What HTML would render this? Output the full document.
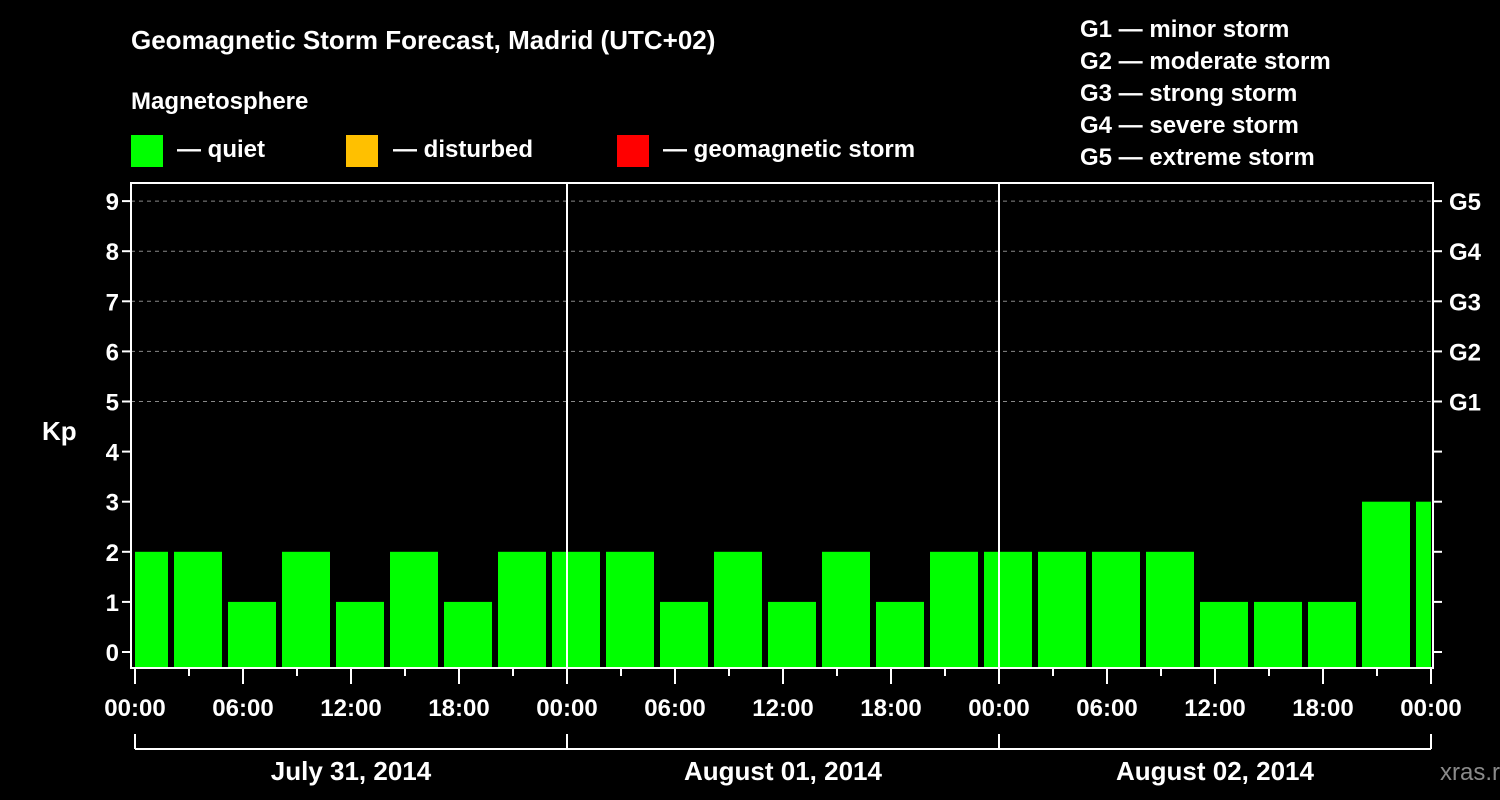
<!DOCTYPE html>
<html><head><meta charset="utf-8"><style>
body{margin:0;background:#000;width:1500px;height:800px;overflow:hidden}
svg{display:block}
text{font-family:"Liberation Sans",sans-serif;font-weight:bold;fill:#fff}
</style></head><body>
<svg id="chart" width="1500" height="800" viewBox="0 0 1500 800">
<text x="131" y="49" font-size="26">Geomagnetic Storm Forecast, Madrid (UTC+02)</text>
<text x="131" y="109" font-size="24">Magnetosphere</text>
<g>
<rect x="131" y="135" width="32" height="32" fill="#00ff00"/>
<text x="177" y="157" font-size="24">— quiet</text>
<rect x="346" y="135" width="32" height="32" fill="#ffc000"/>
<text x="393" y="157" font-size="24">— disturbed</text>
<rect x="617" y="135" width="32" height="32" fill="#ff0000"/>
<text x="663" y="157" font-size="24">— geomagnetic storm</text>
</g>
<g font-size="24">
<text x="1080" y="37">G1 — minor storm</text>
<text x="1080" y="69">G2 — moderate storm</text>
<text x="1080" y="101">G3 — strong storm</text>
<text x="1080" y="133">G4 — severe storm</text>
<text x="1080" y="165">G5 — extreme storm</text>
</g>
<text x="42" y="440" font-size="26">Kp</text>
<text x="1440" y="780" font-size="24" fill="#888" style="fill:#8a8a8a;font-weight:normal">xras.ru</text>
<g id="grid"></g><g id="bars"></g><g id="axes"></g>
</svg>
<script>
const kpValues=[2,2,1,2,1,2,1,2,2,2,1,2,1,2,1,2,2,2,2,2,1,1,1,3,3];
const yTicks=[0,1,2,3,4,5,6,7,8,9];
const gLabels=["G1","G2","G3","G4","G5"];
const gLevels=[5,6,7,8,9];
const xTickLabels=["00:00","06:00","12:00","18:00","00:00","06:00","12:00","18:00","00:00","06:00","12:00","18:00","00:00"];
const dateLabels=["July 31, 2014","August 01, 2014","August 02, 2014"];
const slotStartHour=-1, slotHours=3;

const NS="http://www.w3.org/2000/svg";
const L=131,R=1433,T=183,B=668;
const x=h=>135+h*18;
const y=v=>652-v*50.1;
function mk(tag,attrs,parent,txt){const e=document.createElementNS(NS,tag);for(const k in attrs)e.setAttribute(k,attrs[k]);if(txt!==undefined)e.textContent=txt;parent.appendChild(e);return e;}
const grid=document.getElementById('grid'),bars=document.getElementById('bars'),axes=document.getElementById('axes');
gLevels.forEach((v,i)=>{
 const ln=mk('line',{x1:L,x2:R,y1:y(v),y2:y(v),stroke:'#888','stroke-dasharray':'4,4','stroke-width':1},grid);
 
 
});
kpValues.forEach((v,i)=>{
 let s=x(slotStartHour+i*slotHours),e=x(slotStartHour+(i+1)*slotHours);
 s=Math.max(s,x(0)-3);e=Math.min(e,x(72)+3);
 const col=v>=5?'#ff0000':(v>=4?'#ffc000':'#00ff00');
 const r=mk('rect',{x:s+3,y:y(v),width:e-s-6,height:B-1-y(v),fill:col},bars);
 
 
});
[24,48].forEach(h=>{const d=mk('line',{x1:x(h),x2:x(h),y1:T,y2:B,stroke:'#fff','stroke-width':2},axes);
 
 });
const frame=mk('rect',{x:L,y:T,width:R-L,height:B-T,fill:'none',stroke:'#fff','stroke-width':2},axes);


yTicks.forEach(v=>{
 mk('line',{x1:L-9,x2:L,y1:y(v),y2:y(v),stroke:'#fff','stroke-width':2},axes);
 mk('line',{x1:R,x2:R+9,y1:y(v),y2:y(v),stroke:'#fff','stroke-width':2},axes);
 const t=mk('text',{x:L-12,y:y(v)+9,'font-size':24,'text-anchor':'end'},axes,String(v));
 
 
});
gLevels.forEach((v,i)=>{
 const t=mk('text',{x:1449,y:y(v)+9,'font-size':24},axes,gLabels[i]);
 
 
});
for(let h=0;h<=72;h+=3){
 const long=h%6===0;
 mk('line',{x1:x(h),x2:x(h),y1:B,y2:B+(long?16:8),stroke:'#fff','stroke-width':2},axes);
}
xTickLabels.forEach((s,i)=>{
 const t=mk('text',{x:x(i*6),y:716,'font-size':24,'text-anchor':'middle'},axes,s);
 
 
});
mk('line',{x1:x(0),x2:x(72),y1:749,y2:749,stroke:'#fff','stroke-width':2},axes);
for(let d=0;d<=3;d++)mk('line',{x1:x(d*24),x2:x(d*24),y1:734,y2:749,stroke:'#fff','stroke-width':2},axes);
dateLabels.forEach((s,i)=>{
 const t=mk('text',{x:x(i*24+12),y:780,'font-size':26,'text-anchor':'middle'},axes,s);
 
 
});
</script>
</body></html>
